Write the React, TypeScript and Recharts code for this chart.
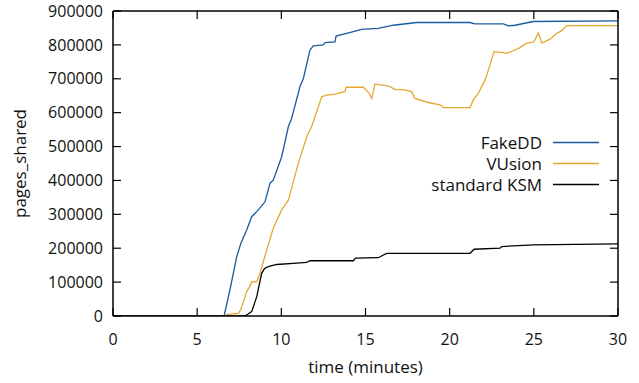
import React from 'react';
import { LineChart, Line, XAxis, YAxis, Customized } from 'recharts';

// ---- data ----
const xTicks = [0, 5, 10, 15, 20, 25, 30];
const yTicks = [0, 100000, 200000, 300000, 400000, 500000, 600000, 700000, 800000, 900000];

const fakeddTime = [0, 6.6, 7.0, 7.35, 7.6, 7.94, 8.24, 8.63, 9.03, 9.33, 9.52, 10.02, 10.42, 10.61, 11.11, 11.31, 11.7, 11.9, 12.49, 12.59, 13.19, 13.25, 14.28, 14.77, 15.76, 16.65, 18.04, 21.2, 21.5, 23.19, 23.49, 23.88, 24.97, 30];
const fakeddPages = [0, 0, 90000, 175000, 215000, 254000, 293000, 313000, 337000, 392000, 401000, 470000, 559000, 583000, 677000, 701000, 785000, 797000, 800000, 807000, 809000, 826000, 839000, 846000, 849000, 858000, 866000, 866000, 862000, 862000, 856000, 858000, 869000, 871000];

const vusionTime = [0, 6.65, 6.8, 7.45, 7.6, 7.94, 8.1, 8.24, 8.54, 8.73, 9.13, 9.52, 10.02, 10.42, 11.01, 11.51, 11.8, 12.4, 12.69, 13.19, 13.78, 13.84, 14.87, 15.23, 15.37, 15.56, 16.36, 16.75, 17.35, 17.74, 17.94, 18.73, 19.43, 19.62, 21.21, 21.4, 21.7, 22.1, 22.4, 22.63, 23.19, 23.39, 23.88, 24.18, 24.58, 24.97, 25.07, 25.27, 25.47, 25.96, 26.36, 26.66, 26.95, 30];
const vusionPages = [0, 0, 5000, 8000, 20000, 72000, 85000, 101000, 101000, 126000, 195000, 259000, 313000, 342000, 451000, 529000, 559000, 647000, 652000, 655000, 662000, 675000, 675000, 657000, 642000, 684000, 679000, 669000, 667000, 662000, 642000, 630000, 623000, 615000, 615000, 637000, 657000, 696000, 741000, 780000, 777000, 775000, 785000, 792000, 805000, 808000, 815000, 836000, 805000, 817000, 834000, 842000, 857000, 857000];

const ksmTime = [0, 7.84, 8.0, 8.24, 8.54, 8.83, 9.0, 9.23, 9.72, 10.71, 11.51, 11.7, 14.28, 14.4, 15.76, 16.26, 21.21, 21.45, 22.99, 23.09, 24.97, 30];
const ksmPages = [0, 0, 5000, 13000, 57000, 126000, 140000, 146000, 152000, 155000, 158000, 163000, 163000, 171000, 172000, 185000, 185000, 197000, 200000, 205000, 210000, 213000];

const seriesNames = ['FakeDD', 'VUsion', 'standard KSM'];
const seriesColors = ['#1a5aa0', '#e6a832', '#000000'];

const zip = (ts: number[], vs: number[]) => ts.map((t, i) => ({ t, v: vs[i] }));
const fakeddData = zip(fakeddTime, fakeddPages);
const vusionData = zip(vusionTime, vusionPages);
const ksmData = zip(ksmTime, ksmPages);

const FONT = 'Open Sans';
const TICK_LEN = 8;

// tickSize is negative so tick lines point into the plot (gnuplot style);
// tickMargin brings the label anchor back onto the axis line.
const BottomTick = (props: any) => {
  const { x, y, payload } = props;
  return (
    <text x={x} y={y + 29} textAnchor="middle" fontFamily={FONT} fontSize={16} fill="#111">
      {payload.value}
    </text>
  );
};

const LeftTick = (props: any) => {
  const { x, y, payload } = props;
  return (
    <text x={x - 10} y={y + 5.7} textAnchor="end" fontFamily={FONT} fontSize={16} fill="#111">
      {payload.value}
    </text>
  );
};

const NoLabel = () => <g />;

const XLabel = (props: any) => {
  const vb = props.viewBox;
  return (
    <text x={vb.x + vb.width / 2} y={vb.y + 57} textAnchor="middle" fontFamily={FONT} fontSize={17} fill="#111">
      time (minutes)
    </text>
  );
};

const YLabel = (props: any) => {
  const vb = props.viewBox;
  const cx = vb.x + 25.5;
  const cy = vb.y + vb.height / 2;
  return (
    <text x={cx} y={cy} textAnchor="middle" transform={`rotate(-90, ${cx}, ${cy})`} fontFamily={FONT} fontSize={17} fill="#111">
      pages_shared
    </text>
  );
};

const LegendBox = () => {
  const rows = [142.5, 163.5, 184.5];
  return (
    <g>
      {seriesNames.map((n, i) => (
        <g key={n}>
          <text x={542} y={rows[i] + 6} textAnchor="end" fontFamily={FONT} fontSize={17} fill="#111">
            {n}
          </text>
          <line x1={553} y1={rows[i]} x2={599} y2={rows[i]} stroke={seriesColors[i]} strokeWidth={1.3} />
        </g>
      ))}
    </g>
  );
};

const axisLineStyle = { stroke: '#000', strokeWidth: 1.5 };
const tickLineStyle = { stroke: '#000', strokeWidth: 1.2 };

export default function App() {
  return (
    <div style={{ position: 'absolute', left: 0, top: 0, background: '#fff' }}>
      <LineChart width={639} height={383} margin={{ top: 0, right: 0, bottom: 0, left: 0 }}>
        <XAxis
          dataKey="t"
          type="number"
          domain={[0, 30]}
          ticks={xTicks}
          height={67}
          tickSize={-TICK_LEN}
          tickMargin={TICK_LEN}
          tick={<BottomTick />}
          tickLine={tickLineStyle}
          axisLine={axisLineStyle}
          allowDataOverflow
          label={<XLabel />}
        />
        <XAxis
          xAxisId="top"
          orientation="top"
          dataKey="t"
          type="number"
          domain={[0, 30]}
          ticks={xTicks}
          height={11}
          tickSize={-TICK_LEN}
          tickMargin={TICK_LEN}
          tick={<NoLabel />}
          tickLine={tickLineStyle}
          axisLine={axisLineStyle}
          allowDataOverflow
        />
        <YAxis
          type="number"
          domain={[0, 900000]}
          ticks={yTicks}
          width={113}
          tickSize={-TICK_LEN}
          tickMargin={TICK_LEN}
          tick={<LeftTick />}
          tickLine={tickLineStyle}
          axisLine={axisLineStyle}
          allowDataOverflow
          label={<YLabel />}
        />
        <YAxis
          yAxisId="right"
          orientation="right"
          type="number"
          domain={[0, 900000]}
          ticks={yTicks}
          width={21}
          tickSize={-TICK_LEN}
          tickMargin={TICK_LEN}
          tick={<NoLabel />}
          tickLine={tickLineStyle}
          axisLine={axisLineStyle}
          allowDataOverflow
        />
        <Line data={ksmData} dataKey="v" name={seriesNames[2]} stroke={seriesColors[2]} strokeWidth={1.3} dot={false} isAnimationActive={false} type="linear" />
        <Line data={vusionData} dataKey="v" name={seriesNames[1]} stroke={seriesColors[1]} strokeWidth={1.3} dot={false} isAnimationActive={false} type="linear" />
        <Line data={fakeddData} dataKey="v" name={seriesNames[0]} stroke={seriesColors[0]} strokeWidth={1.3} dot={false} isAnimationActive={false} type="linear" />
        <Customized component={<LegendBox />} />
      </LineChart>
    </div>
  );
}
